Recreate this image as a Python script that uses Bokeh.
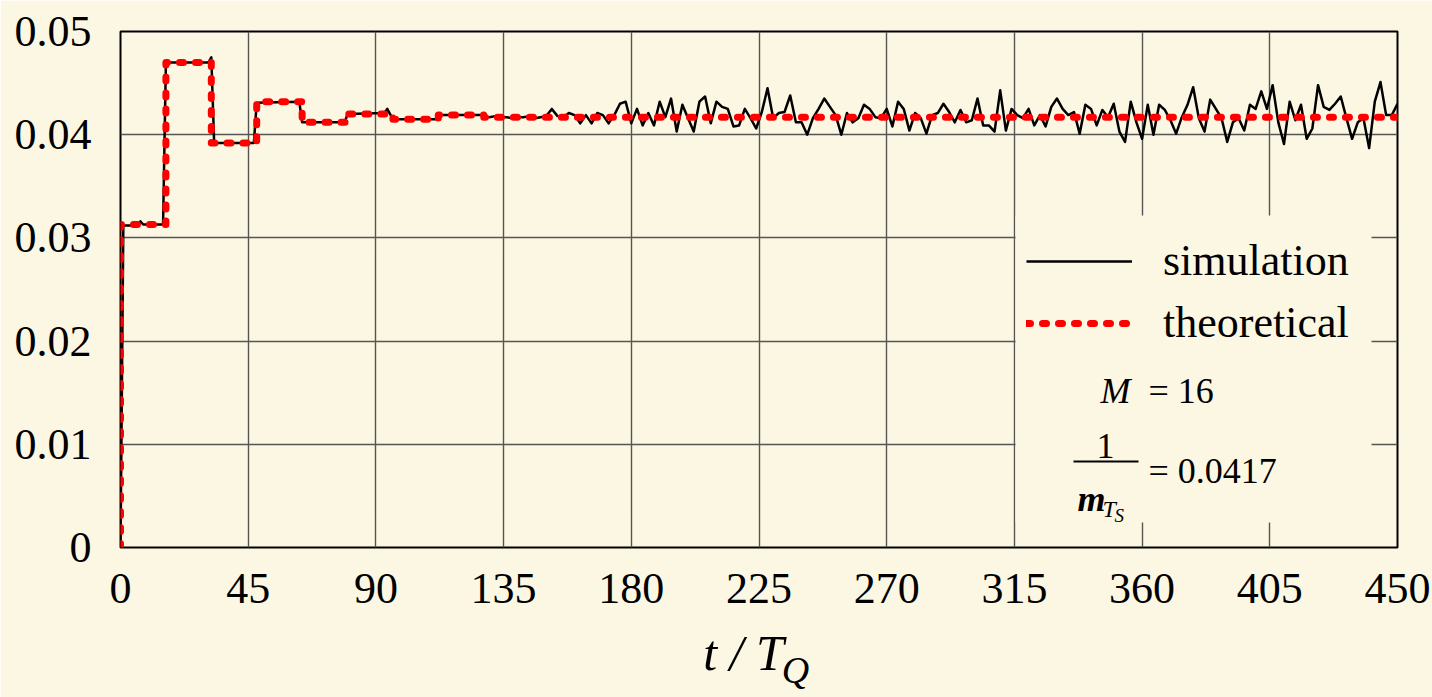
import numpy as np
from bokeh.plotting import figure
from bokeh.models import (Range1d, FixedTicker, Label, Legend, LegendItem,
                          CustomJSTickFormatter, LinearAxis)
from bokeh.embed import file_html
from bokeh.resources import INLINE

BG = "#FCF7E3"
FONT = "Liberation Serif"

# ---- axis ticks -------------------------------------------------------
x_ticks = [0, 45, 90, 135, 180, 225, 270, 315, 360, 405, 450]
x_tick_labels = ["0", "45", "90", "135", "180", "225", "270", "315", "360", "405", "450"]
y_ticks = [0.0, 0.01, 0.02, 0.03, 0.04, 0.05]
y_tick_labels = ["0", "0.01", "0.02", "0.03", "0.04", "0.05"]
x_title_main = "t / T"
x_title_sub = "Q"

# ---- theoretical (step levels) -----------------------------------------
theo_t = [0, 16, 32, 48, 64, 80, 96, 112, 128, 450]
theo_y = [0.0313, 0.0470, 0.0392, 0.0432, 0.0412, 0.0420, 0.0415, 0.0419, 0.0417, 0.0417]

# ---- simulation --------------------------------------------------------
sim_t_early = [0, 1, 6, 7, 8, 15, 16, 31, 32, 33, 47, 48, 63, 64, 79, 80,
               93, 94, 95, 96, 111, 112, 127, 128]
sim_y_early = [0.0, 0.0312, 0.0312, 0.0316, 0.0313, 0.0313, 0.0470, 0.0470,
               0.0475, 0.0392, 0.0392, 0.0431, 0.0432, 0.0412, 0.0412, 0.0420,
               0.0421, 0.0425, 0.0420, 0.0415, 0.0415, 0.0419, 0.0419, 0.0417]
sim_t_late = list(range(130, 451, 2))
sim_y_late = [
    # 130 - 204
    0.0417, 0.0418, 0.0417, 0.0417, 0.0416, 0.0417, 0.0417, 0.0418, 0.0416, 0.0417,
    0.0418, 0.0425, 0.0418, 0.0417, 0.0421, 0.0419, 0.0411, 0.0419, 0.0411, 0.0421,
    0.0419, 0.0411, 0.0419, 0.0430, 0.0432, 0.0411, 0.0425, 0.0409, 0.0421, 0.0409,
    0.0432, 0.0417, 0.0435, 0.0403, 0.0429, 0.0416, 0.0403, 0.0432,
    # 206 - 266
    0.0437, 0.0411, 0.0432, 0.0427, 0.0425, 0.0408, 0.0409, 0.0425, 0.0416, 0.0406,
    0.0422, 0.0445, 0.0416, 0.0421, 0.0422, 0.0438, 0.0412, 0.0412, 0.0400, 0.0416,
    0.0425, 0.0435, 0.0427, 0.0419, 0.0400, 0.0421, 0.0412, 0.0416, 0.0429, 0.0425,
    0.0417,
    # 268 - 330
    0.0416, 0.0425, 0.0408, 0.0432, 0.0425, 0.0404, 0.0421, 0.0416, 0.0401, 0.0419,
    0.0421, 0.0430, 0.0422, 0.0412, 0.0424, 0.0412, 0.0414, 0.0435, 0.0409, 0.0409,
    0.0403, 0.0443, 0.0404, 0.0425, 0.0419, 0.0416, 0.0425, 0.0409, 0.0419, 0.0408,
    0.0427, 0.0435,
    # 332 - 392
    0.0425, 0.0419, 0.0422, 0.0401, 0.0429, 0.0425, 0.0409, 0.0424, 0.0417, 0.0430,
    0.0403, 0.0393, 0.0432, 0.0412, 0.0396, 0.0429, 0.0400, 0.0429, 0.0424, 0.0414,
    0.0401, 0.0417, 0.0429, 0.0446, 0.0416, 0.0403, 0.0434, 0.0425, 0.0416, 0.0393,
    0.0412,
    # 394 - 450
    0.0416, 0.0404, 0.0429, 0.0425, 0.0442, 0.0425, 0.0448, 0.0412, 0.0391, 0.0432,
    0.0414, 0.0429, 0.0396, 0.0406, 0.0448, 0.0427, 0.0424, 0.0430, 0.0437, 0.0416,
    0.0396, 0.0412, 0.0416, 0.0387, 0.0432, 0.0451, 0.0419, 0.0419, 0.0430,
]

sim_t = sim_t_early + sim_t_late
sim_y = sim_y_early + sim_y_late

# build the step path of the theoretical curve from its levels
path_t = [theo_t[0]]
path_y = [0.0]
for i in range(len(theo_t) - 1):
    path_t += [theo_t[i], theo_t[i + 1]]
    path_y += [theo_y[i], theo_y[i]]

# ---- figure ------------------------------------------------------------
W, H = 1432, 697
FL, FT, FW, FH = 120, 31, 1277, 516
p = figure(frame_width=FW, frame_height=FH,
           min_border_left=FL, min_border_top=FT,
           min_border_right=W - FL - FW, min_border_bottom=H - FT - FH,
           x_range=Range1d(0, 450), y_range=Range1d(0, 0.05),
           output_backend="svg", toolbar_location=None)
p.background_fill_color = BG
p.border_fill_color = BG
p.outline_line_color = "black"
p.outline_line_width = 2

p.xaxis.ticker = FixedTicker(ticks=x_ticks)
p.yaxis.ticker = FixedTicker(ticks=y_ticks)
p.xaxis.formatter = CustomJSTickFormatter(args=dict(labels=x_tick_labels), code="return labels[index];")
p.yaxis.formatter = CustomJSTickFormatter(args=dict(labels=y_tick_labels), code="return labels[index];")

def style_axis(ax, size, fstyle="normal", standoff=0):
    ax.axis_line_color = None
    ax.major_tick_line_color = None
    ax.minor_tick_line_color = None
    ax.major_tick_in = 0
    ax.major_tick_out = 0
    ax.major_label_text_font = FONT
    ax.major_label_text_font_size = size
    ax.major_label_text_font_style = fstyle
    ax.major_label_text_color = "black"
    ax.major_label_standoff = standoff

style_axis(p.xaxis[0], "44px", standoff=26)
style_axis(p.yaxis[0], "44px", standoff=29)

p.xgrid.ticker = FixedTicker(ticks=x_ticks)
p.ygrid.ticker = FixedTicker(ticks=y_ticks)
p.grid.grid_line_color = "#555555"
p.grid.grid_line_width = 1.4

# helpers to convert page pixels to data units (layout only)
def px_t(x):
    return (x - FL) * 450.0 / FW

def px_v(y):
    return (FT + FH - y) * 0.05 / FH

# axis title "t / T" with subscript "Q", drawn as two label-only axes
ax_title = LinearAxis(ticker=FixedTicker(ticks=[px_t(743)]),
                      formatter=CustomJSTickFormatter(args=dict(labels=[x_title_main]),
                                                      code="return labels[index];"))
style_axis(ax_title, "50px", "italic", standoff=19)
p.add_layout(ax_title, "below")
ax_sub = LinearAxis(ticker=FixedTicker(ticks=[px_t(795)]),
                    formatter=CustomJSTickFormatter(args=dict(labels=[x_title_sub]),
                                                    code="return labels[index];"))
style_axis(ax_sub, "38px", "italic", standoff=-35)
p.add_layout(ax_sub, "below")

# legend box hiding the grid
p.quad(left=px_t(1015), right=px_t(1371), bottom=px_v(522), top=px_v(215),
       fill_color=BG, line_color=None)

r_sim = p.line(sim_t, sim_y, line_color="black", line_width=2.5, line_join="round")
r_theo = p.line(path_t, path_y, line_color="#FF0000", line_width=7,
                line_dash="4 12", line_cap="round", line_join="round")

legend = Legend(items=[LegendItem(label="simulation", renderers=[r_sim]),
                       LegendItem(label="theoretical", renderers=[r_theo])],
                location=(906, 199), padding=0, margin=0, spacing=11,
                glyph_width=106, glyph_height=50, label_height=50,
                label_standoff=31, border_line_color=None,
                background_fill_alpha=0)
legend.label_text_font = FONT
legend.label_text_font_size = "44px"
legend.label_text_color = "black"
p.add_layout(legend)

def lab(x, y, text, size, style="normal", align="left"):
    p.add_layout(Label(x=px_t(x), y=px_v(y), text=text, text_font=FONT,
                       text_font_size=size, text_font_style=style,
                       text_align=align, text_baseline="alphabetic",
                       text_color="black"))

# M = 16
lab(1100, 390, "M", "36px", "italic")
lab(1148, 390, "= 16", "36px")
# 1 / m_Ts = 0.0417
lab(1105, 445, "1", "36px", "normal", "center")
p.segment(x0=[px_t(1073)], y0=[px_v(461)], x1=[px_t(1138)], y1=[px_v(461)],
          line_color="black", line_width=2)
lab(1148, 470, "= 0.0417", "36px")
lab(1077, 498, "m", "36px", "bold italic")
lab(1102, 508, "T", "24px", "italic")
lab(1114, 515, "S", "19px", "italic")

html = file_html(p, INLINE)
open("out.html", "w").write(html)
